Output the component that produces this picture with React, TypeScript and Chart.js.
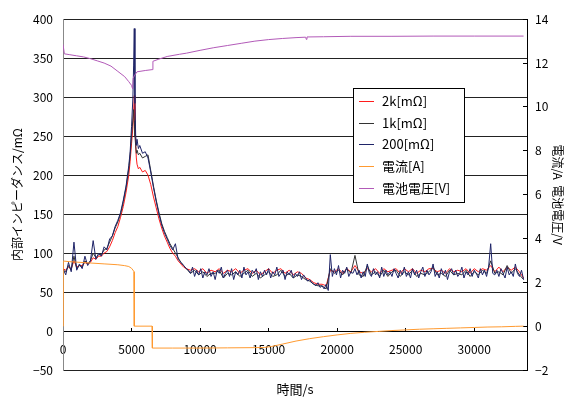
import React, { useEffect, useRef } from "react";
import { Chart, registerables } from "chart.js";

Chart.register(...registerables);

// ---- impedance series (left axis, mΩ) ----
const headTimes = [
  0, 200, 400, 600, 800, 1000, 1200, 1400, 1600, 1800, 2000, 2200, 2400, 2600, 2800, 3000, 3200, 3400, 3600, 3800, 4000, 4200, 4400, 4600, 4800,
  4900, 5000, 5100, 5150, 5200, 5250, 5300, 5350, 5400, 5500,
  5600, 5800, 6000, 6200, 6400, 6600, 6800, 7000, 7200, 7400, 7600, 7800, 8000, 8200, 8400, 8600, 8800, 9000,
];
const tailTimes = [
  9300, 9600, 9900, 10200, 10500, 10800, 11100, 11400, 11700, 12000, 12300, 12600, 12900, 13200, 13500, 13800, 14100, 14400, 14700, 15000,
  15300, 15600, 15900, 16200, 16500, 16800, 17100, 17400, 17700, 18000, 18300, 18600, 18900, 19200, 19500, 19800, 20100, 20400, 20700, 21000,
  21300, 21600, 21900, 22200, 22500, 22800, 23100, 23400, 23700, 24000, 24300, 24600, 24900, 25200, 25500, 25800, 26100, 26400, 26700, 27000,
  27300, 27600, 27900, 28200, 28500, 28800, 29100, 29400, 29700, 30000, 30300, 30600, 30900, 31200, 31500, 31800, 32100, 32400, 32700, 33000,
  33300, 33600,
];
const fineTailTimes = [
  9150, 9300, 9450, 9600, 9750, 9900, 10050, 10200, 10350, 10500,
  10650, 10800, 10950, 11100, 11250, 11400, 11550, 11700, 11850, 12000,
  12150, 12300, 12450, 12600, 12750, 12900, 13050, 13200, 13350, 13500,
  13650, 13800, 13950, 14100, 14250, 14400, 14550, 14700, 14850, 15000,
  15150, 15300, 15450, 15600, 15750, 15900, 16050, 16200, 16350, 16500,
  16650, 16800, 16950, 17100, 17250, 17400, 17550, 17700, 17850, 18000,
  18150, 18300, 18450, 18600, 18750, 18900, 19050, 19200, 19350, 19500,
  19650, 19800, 19950, 20100, 20250, 20400, 20550, 20700, 20850, 21000,
  21150, 21300, 21450, 21600, 21750, 21900, 22050, 22200, 22350, 22500,
  22650, 22800, 22950, 23100, 23250, 23400, 23550, 23700, 23850, 24000,
  24150, 24300, 24450, 24600, 24750, 24900, 25050, 25200, 25350, 25500,
  25650, 25800, 25950, 26100, 26250, 26400, 26550, 26700, 26850, 27000,
  27150, 27300, 27450, 27600, 27750, 27900, 28050, 28200, 28350, 28500,
  28650, 28800, 28950, 29100, 29250, 29400, 29550, 29700, 29850, 30000,
  30150, 30300, 30450, 30600, 30750, 30900, 31050, 31200, 31350, 31500,
  31650, 31800, 31950, 32100, 32250, 32400, 32550, 32700, 32850, 33000,
  33150, 33300, 33450, 33600,
];

const imp2k = [
  80, 78, 82, 80, 90, 82, 84, 84, 88, 86, 88, 94, 92, 96, 96, 100, 102, 108, 116, 126, 134, 146, 160, 178, 200,
  218, 240, 262, 280, 302, 270, 240, 222, 214, 208,
  210, 204, 206, 200, 188, 172, 158, 144, 132, 122, 114, 106, 100, 96, 90, 86, 82, 80,
  78, 80, 76, 80, 74, 78, 76, 80, 74, 78, 76, 80, 74, 78, 80, 74, 78, 72, 76, 80,
  74, 78, 80, 74, 78, 72, 76, 74, 68, 66, 62, 60, 60, 58, 78, 76, 80, 74, 80, 76,
  84, 76, 74, 80, 76, 80, 74, 80, 76, 78, 80, 74, 80, 76, 80, 74, 78, 76, 80, 80,
  76, 78, 74, 80, 76, 78, 76, 80, 74, 80, 76, 80, 78, 84, 76, 82, 76, 82, 78, 82,
  76, 68,
];

const imp1k = [
  78, 76, 84, 78, 96, 80, 84, 82, 90, 86, 90, 100, 94, 98, 98, 104, 106, 114, 122, 132, 140, 150, 166, 184, 208,
  226, 250, 272, 284, 270, 250, 238, 228, 232, 226,
  228, 222, 224, 226, 206, 186, 168, 152, 138, 128, 120, 112, 106, 100, 94, 88, 84, 80,
  74, 78, 72, 76, 70, 74, 74, 78, 68, 74, 72, 76, 70, 74, 78, 70, 74, 68, 72, 76,
  70, 72, 78, 70, 74, 68, 72, 70, 66, 64, 60, 58, 58, 54, 80, 74, 78, 72, 80, 74,
  97, 72, 70, 84, 72, 76, 70, 78, 70, 76, 78, 70, 76, 72, 78, 70, 74, 72, 76, 82,
  72, 74, 70, 78, 72, 74, 72, 78, 70, 76, 72, 78, 74, 90, 74, 76, 72, 84, 74, 80,
  72, 66,
];

const imp200Head = [
  80, 72, 88, 76, 114, 78, 86, 80, 96, 84, 90, 116, 92, 100, 96, 108, 104, 118, 122, 134, 142, 152, 168, 186, 212,
  230, 262, 300, 340, 388, 292, 252, 238, 246, 234,
  238, 228, 230, 222, 204, 184, 166, 150, 136, 126, 118, 110, 104, 112, 92, 88, 84, 80,
];
const imp200Tail = [
  78, 74, 82, 70, 78, 72, 80, 68, 76, 72,
  80, 70, 76, 66, 78, 74, 82, 68, 74, 78,
  70, 80, 66, 76, 72, 78, 68, 82, 72, 76,
  68, 78, 74, 80, 66, 76, 70, 78, 72, 80,
  68, 76, 72, 82, 70, 74, 78, 66, 76, 72,
  78, 68, 74, 70, 76, 66, 72, 68, 64, 66,
  62, 60, 58, 62, 56, 58, 54, 60, 52, 98,
  70, 80, 72, 84, 68, 78, 74, 82, 70, 76,
  74, 80, 72, 78, 68, 76, 70, 86, 74, 70,
  80, 72, 76, 68, 82, 70, 78, 72, 76, 70,
  80, 74, 68, 78, 72, 82, 70, 76, 68, 80,
  72, 78, 68, 76, 82, 70, 78, 72, 76, 86,
  70, 76, 68, 80, 72, 78, 66, 76, 80, 72,
  78, 70, 74, 82, 68, 76, 72, 80, 70, 78,
  74, 68, 80, 72, 78, 70, 82, 112, 74, 72,
  78, 70, 80, 74, 68, 82, 72, 76, 70, 86,
  74, 70, 78, 66,
];

// ---- current (right axis, A) ----
const currTimes = [
  0, 20, 500, 1000, 2000, 3000, 4000, 4500, 4800, 5000, 5100, 5180, 5200, 6500, 6520, 8000, 10000, 12000, 14000, 14700,
  15200, 16000, 17000, 18000, 19000, 20000, 21000, 22000, 23000, 24000, 25000, 26000, 27000, 28000, 29000, 30000, 31000, 32000, 33000, 33600,
];
const current = [
  0.0, 2.97, 2.94, 2.92, 2.88, 2.84, 2.8, 2.76, 2.72, 2.64, 2.56, 2.48, 0.0, 0.0, -1.0, -1.0, -1.0, -0.99, -0.98, -0.97,
  -0.93, -0.82, -0.68, -0.57, -0.48, -0.4, -0.33, -0.28, -0.24, -0.2, -0.17, -0.14, -0.12, -0.1, -0.08, -0.06, -0.04, -0.03, -0.01, 0.0,
];

// ---- battery voltage (right axis, V) ----
const voltTimes = [
  0, 100, 500, 1000, 1500, 2000, 2500, 3000, 3500, 4000, 4500, 4800, 5000, 5080, 5120, 5200, 5400, 6000, 6500, 6560,
  7000, 7600, 8500, 9000, 10000, 11000, 12000, 13000, 14000, 15000, 16000, 17000, 17700, 17750, 17800, 19000, 21000, 24000, 27000, 30000, 33600,
];
const voltage = [
  12.85, 12.42, 12.38, 12.33, 12.28, 12.2, 12.1, 12.0, 11.86, 11.62, 11.38, 11.15, 10.98, 10.82, 11.3, 11.42, 11.6, 11.66, 11.7, 12.08,
  12.18, 12.3, 12.4, 12.45, 12.58, 12.7, 12.8, 12.9, 13.0, 13.07, 13.12, 13.16, 13.18, 13.08, 13.19, 13.2, 13.22, 13.22, 13.23, 13.23, 13.23,
];

const seriesLabels = ["2k[mΩ]", "1k[mΩ]", "200[mΩ]", "電流[A]", "電池電圧[V]"];
const seriesColors = ["#ff1c1c", "#333333", "#1f2468", "#ff9a30", "#b25ab8"];

const xTickValues = [0, 5000, 10000, 15000, 20000, 25000, 30000];
const xMax = 33850;
const leftTicks = { min: -50, max: 400, step: 50 };
const rightTicks = { min: -2, max: 14, step: 2 };

const FONT = "'Noto Sans CJK JP', 'Noto Sans', sans-serif";

const toPoints = (xs: number[], ys: number[]) => xs.map((x, i) => ({ x, y: ys[i] }));
const minusFmt = (v: number | string) => String(v).replace("-", "\u2212");

const boxLegend = {
  id: "boxLegend",
  afterDatasetsDraw(chart: any) {
    const { ctx } = chart;
    const bx = 353.5, by = 88.5, bw = 111, bh = 114;
    ctx.save();
    ctx.fillStyle = "#ffffff";
    ctx.fillRect(bx, by, bw, bh);
    ctx.strokeStyle = "#000000";
    ctx.lineWidth = 1;
    ctx.strokeRect(bx, by, bw, bh);
    ctx.font = `13px ${FONT}`;
    ctx.textBaseline = "middle";
    ctx.textAlign = "left";
    chart.data.datasets.forEach((ds: any, i: number) => {
      const y = Math.round(101 + i * 21.7) + 0.5;
      ctx.strokeStyle = ds.borderColor;
      ctx.lineWidth = 1;
      ctx.beginPath();
      ctx.moveTo(359, y);
      ctx.lineTo(374, y);
      ctx.stroke();
      ctx.fillStyle = "#000000";
      ctx.fillText(ds.label, 382, y);
    });
    ctx.restore();
  },
};

export default function App() {
  const ref = useRef<HTMLCanvasElement | null>(null);

  useEffect(() => {
    document.body.style.margin = "0";
    if (!ref.current) return;
    Chart.defaults.font.family = FONT;
    Chart.defaults.color = "#000000";

    const impTimes = [...headTimes, ...tailTimes];
    const imp200Times = [...headTimes, ...fineTailTimes];
    const imp200 = [...imp200Head, ...imp200Tail];

    const common = { pointRadius: 0, borderWidth: 1, tension: 0, fill: false };
    const chart = new Chart(ref.current, {
      type: "line",
      data: {
        datasets: [
          { ...common, label: seriesLabels[0], data: toPoints(impTimes, imp2k), borderColor: seriesColors[0], yAxisID: "y", order: 5 },
          { ...common, label: seriesLabels[1], data: toPoints(impTimes, imp1k), borderColor: seriesColors[1], yAxisID: "y", order: 4 },
          { ...common, label: seriesLabels[2], data: toPoints(imp200Times, imp200), borderColor: seriesColors[2], yAxisID: "y", order: 3 },
          { ...common, label: seriesLabels[3], data: toPoints(currTimes, current), borderColor: seriesColors[3], yAxisID: "y1", order: 2 },
          { ...common, label: seriesLabels[4], data: toPoints(voltTimes, voltage), borderColor: seriesColors[4], yAxisID: "y1", order: 1 },
        ],
      },
      options: {
        responsive: false,
        animation: false,
        layout: { padding: { left: 0, right: 0, top: 12, bottom: 33 } },
        plugins: { legend: { display: false }, tooltip: { enabled: false } },
        scales: {
          x: {
            type: "linear",
            position: { y: 0 } as any,
            min: 0,
            max: xMax,
            afterBuildTicks: (s: any) => { s.ticks = xTickValues.map((v) => ({ value: v })); },
            ticks: { padding: 15, font: { size: 12 }, color: "#000", maxRotation: 0, autoSkip: false, callback: (v: any) => String(v) },
            grid: { display: true, drawOnChartArea: false, tickLength: -4, color: "#000" },
            border: { display: true, color: "#000" },
            title: { display: true, text: "時間/s", font: { size: 13 }, padding: { top: 10, bottom: 0 }, color: "#000" },
          },
          y: {
            type: "linear",
            position: "left",
            min: leftTicks.min,
            max: leftTicks.max,
            ticks: { stepSize: leftTicks.step, padding: 10, font: { size: 12 }, color: "#000", callback: (v: any) => minusFmt(v) },
            grid: { color: "#222", drawTicks: false },
            border: { display: true, color: "#888" },
            title: { display: true, text: "内部インピーダンス/mΩ", font: { size: 12 }, padding: { top: 10, bottom: 0 }, color: "#000" },
            afterFit: (s: any) => { s.width = 63; },
          },
          y1: {
            type: "linear",
            position: "right",
            min: rightTicks.min,
            max: rightTicks.max,
            ticks: { stepSize: rightTicks.step, padding: 12, font: { size: 12 }, color: "#000", callback: (v: any) => minusFmt(v) },
            grid: { display: true, drawOnChartArea: false, tickLength: -4, color: "#000" },
            border: { display: true, color: "#000" },
            title: { display: true, text: "電流/A  電池電圧/V", font: { size: 12 }, padding: { top: 7, bottom: 0 }, color: "#000" },
            afterFit: (s: any) => { s.width = 45; },
          },
        },
      },
      plugins: [boxLegend],
    });
    return () => chart.destroy();
  }, []);

  return (
    <div style={{ width: 572, height: 403, background: "#fff" }}>
      <canvas ref={ref} width={572} height={403} />
    </div>
  );
}
